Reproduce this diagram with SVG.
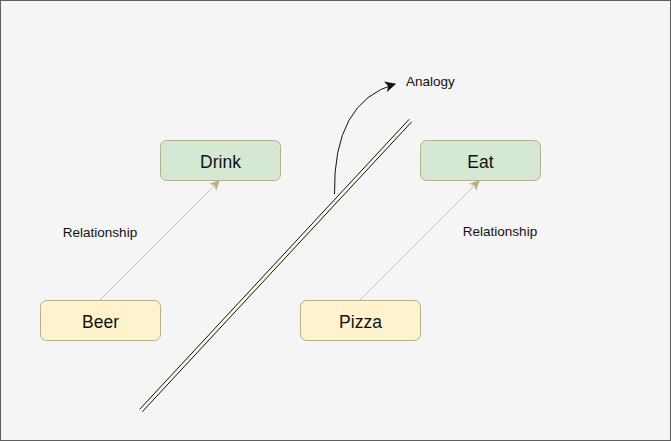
<svg xmlns="http://www.w3.org/2000/svg" width="671" height="441" viewBox="0 0 671 441">
<style>
.box{stroke:#b3b08a;stroke-width:1}
.g{fill:#d5e8d4}
.y{fill:#fff2cc}
.t{font-family:"Liberation Sans",Arial,sans-serif;fill:#111;text-anchor:middle}
.big{font-size:17.5px}
.small{font-size:13.5px}
.rel{stroke:#c9c79c;stroke-width:1;fill:none}
</style>
<defs>
<marker id="ah" viewBox="0 0 10 10" refX="9" refY="5" markerWidth="10" markerHeight="10" markerUnits="userSpaceOnUse" orient="auto">
<path d="M0,0 L10,5 L0,10 L2.5,5 Z" fill="#b3b08a"/>
</marker>
<marker id="ahb" viewBox="0 0 10 10" refX="9" refY="5" markerWidth="11" markerHeight="11" markerUnits="userSpaceOnUse" orient="auto">
<path d="M0,0 L10,5 L0,10 L2.5,5 Z" fill="#111"/>
</marker>
</defs>
<rect x="0.5" y="0.5" width="670" height="440" fill="#f5f5f5" stroke="#5f5f5f" stroke-width="1"/>
<g id="connectors">
<path class="rel" d="M100,300 L219,181" marker-end="url(#ah)"/>
<path class="rel" d="M360,300 L479,181" marker-end="url(#ah)"/>
<line x1="141" y1="410.5" x2="410.5" y2="120.5" stroke="#fdf8e0" stroke-width="3"/>
<line x1="139.7" y1="409.3" x2="409.2" y2="119.3" stroke="#111" stroke-width="1"/>
<line x1="142.3" y1="411.7" x2="411.8" y2="121.7" stroke="#111" stroke-width="1"/>
<path d="M334.5,194 Q333,102 395,84" fill="none" stroke="#111" stroke-width="1" marker-end="url(#ahb)"/>
</g>
<g id="drink">
<rect class="box g" x="160.5" y="140.5" width="120" height="40" rx="6"/>
<text class="t big" x="220.5" y="168">Drink</text>
</g>
<g id="eat">
<rect class="box g" x="420.5" y="140.5" width="120" height="40" rx="6"/>
<text class="t big" x="480.5" y="168">Eat</text>
</g>
<g id="beer">
<rect class="box y" x="40.5" y="300.5" width="120" height="40" rx="6"/>
<text class="t big" x="100.5" y="328">Beer</text>
</g>
<g id="pizza">
<rect class="box y" x="300.5" y="300.5" width="120" height="40" rx="6"/>
<text class="t big" x="360.5" y="328">Pizza</text>
</g>
<g id="labels">
<text class="t small" x="100" y="236.5">Relationship</text>
<text class="t small" x="500" y="236">Relationship</text>
<text class="t small" x="406" y="86" style="text-anchor:start">Analogy</text>
</g>
</svg>
